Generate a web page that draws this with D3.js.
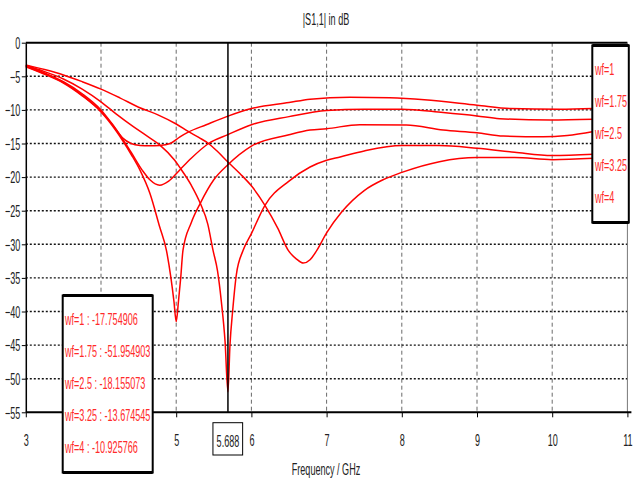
<!DOCTYPE html>
<html>
<head>
<meta charset="utf-8">
<script src="https://cdn.jsdelivr.net/npm/d3@7/dist/d3.min.js"></script>
<style>
  html, body { margin: 0; padding: 0; background: #ffffff; }
  svg { display: block; }
  text { font-family: "Liberation Sans", Arial, sans-serif; }
</style>
</head>
<body>
<svg id="chart" width="633" height="485"></svg>
<script>
// ---------------- data (frequency GHz, |S1,1| dB) ----------------
const seriesNames = ["wf=1", "wf=1.75", "wf=2.5", "wf=3.25", "wf=4"];

const wf1 = [
  [3.0,-3.3],[3.25,-4.0],[3.5,-4.8],[3.75,-5.8],[4.0,-6.9],[4.25,-8.2],[4.5,-9.6],[4.75,-10.7],
  [5.0,-12.1],[5.16,-13.2],[5.3,-14.1],[5.43,-15.0],[5.55,-16.2],[5.688,-17.75],[5.85,-19.5],
  [6.0,-21.3],[6.18,-24.2],[6.35,-27.6],[6.49,-30.9],[6.6,-32.2],[6.69,-32.8],[6.78,-32.3],
  [6.87,-30.9],[7.0,-28.3],[7.2,-25.2],[7.5,-22.0],[7.75,-20.4],[8.0,-19.3],[8.5,-17.7],
  [9.0,-17.1],[9.5,-17.1],[10.0,-17.4],[10.55,-17.2]
];
const wf175 = [
  [3.0,-3.4],[3.25,-4.3],[3.5,-5.4],[3.75,-6.9],[4.0,-8.8],[4.2,-10.6],[4.43,-12.5],[4.6,-13.8],
  [4.78,-15.2],[4.98,-17.5],[5.05,-18.6],[5.2,-21.2],[5.32,-23.9],[5.42,-27.0],[5.49,-30.9],
  [5.55,-34.0],[5.6,-38.5],[5.65,-44.5],[5.688,-51.95],[5.715,-45.0],[5.75,-40.0],[5.8,-34.5],
  [5.89,-30.9],[6.0,-28.4],[6.18,-24.2],[6.5,-20.6],[6.78,-18.5],[7.0,-17.5],[7.18,-17.0],
  [7.5,-16.1],[8.0,-15.3],[8.5,-15.3],[9.0,-15.7],[9.5,-16.3],[10.0,-16.8],[10.55,-16.6]
];
const wf25 = [
  [3.0,-3.6],[3.25,-4.7],[3.5,-6.0],[3.75,-7.9],[4.0,-10.3],[4.2,-13.1],[4.4,-16.6],[4.52,-19.0],
  [4.65,-22.4],[4.78,-27.4],[4.87,-30.9],[4.93,-35.0],[4.97,-38.5],[5.0,-41.5],[5.03,-38.5],
  [5.06,-35.0],[5.09,-30.9],[5.2,-26.8],[5.32,-23.9],[5.5,-20.4],[5.688,-18.16],[6.0,-15.4],
  [6.5,-13.7],[6.78,-13.0],[7.0,-12.8],[7.44,-12.2],[8.06,-12.25],[8.55,-13.0],[9.0,-13.4],
  [9.35,-13.9],[9.88,-14.0],[10.2,-13.8],[10.55,-13.2]
];
const wf325 = [
  [3.0,-3.5],[3.25,-4.6],[3.5,-5.9],[3.75,-7.8],[4.0,-10.2],[4.2,-12.9],[4.4,-16.3],[4.55,-19.0],
  [4.65,-20.4],[4.78,-21.2],[4.9,-20.6],[5.05,-18.9],[5.2,-17.2],[5.43,-15.0],[5.688,-13.67],
  [6.0,-12.2],[6.5,-11.0],[7.0,-10.1],[7.5,-9.9],[8.0,-9.9],[8.55,-10.4],[9.0,-10.9],[9.3,-11.3],
  [9.97,-11.5],[10.55,-11.4]
];
const wf4 = [
  [3.0,-3.4],[3.25,-4.5],[3.5,-5.8],[3.75,-7.6],[4.0,-10.0],[4.15,-12.1],[4.29,-14.2],[4.4,-15.0],
  [4.52,-15.3],[4.65,-15.35],[4.78,-15.3],[4.92,-15.0],[5.05,-14.0],[5.16,-13.3],[5.4,-12.2],
  [5.688,-10.93],[6.0,-9.8],[6.5,-8.9],[6.78,-8.4],[7.31,-8.1],[7.84,-8.2],[8.3,-8.5],[9.0,-9.3],
  [9.44,-9.8],[10.1,-9.9],[10.55,-9.8]
];
const allSeries = [wf1, wf175, wf25, wf325, wf4];

const markerFreq = 5.688;
const markerLabel = "5.688";
const markerValues = ["-17.754906", "-51.954903", "-18.155073", "-13.674545", "-10.925766"];

const xTicks = [3, 4, 5, 6, 7, 8, 9, 10, 11];
const xTickLabels = ["3", "", "5", "6", "7", "8", "9", "10", "11"];  // "4" is hidden behind the marker box
const yTicks = [0, -5, -10, -15, -20, -25, -30, -35, -40, -45, -50, -55];
const titleText = "|S1,1| in dB";
const xLabelText = "Frequency / GHz";

(function () {
  // ---------------- layout ----------------
  const SX = 0.55;              // horizontal text squeeze
  const FS = 16.5;              // font size
  const pL = 25.8, pR = 627.4, pT = 42.7, pB = 412.3;
  const svg = d3.select("#chart");

  const x = d3.scaleLinear().domain([3, 11]).range([pL, pR]);
  const y = d3.scaleLinear().domain([0, -55]).range([pT, pB]);

  function sText(g, px, py, str, anchor, color) {
    return g.append("text")
      .attr("transform", `translate(${px},${py}) scale(${SX},1)`)
      .attr("text-anchor", anchor)
      .attr("font-size", FS)
      .attr("fill", color)
      .text(str);
  }

  // grid
  const grid = svg.append("g");
  grid.selectAll("line.v").data(xTicks.filter(d => d > 3 && d < 11)).join("line")
    .attr("class", "v")
    .attr("x1", d => x(d)).attr("x2", d => x(d))
    .attr("y1", pT).attr("y2", pB)
    .attr("stroke", "#6a6a6a").attr("stroke-width", 1)
    .attr("stroke-dasharray", "4,3");
  grid.selectAll("line.h").data(yTicks.filter(d => d < 0 && d > -55)).join("line")
    .attr("class", "h")
    .attr("x1", pL).attr("x2", pR)
    .attr("y1", d => y(d)).attr("y2", d => y(d))
    .attr("stroke", "#111").attr("stroke-width", 1.4)
    .attr("stroke-dasharray", "2,2");

  // curves
  const line = d3.line().x(d => x(d[0])).y(d => y(d[1])).curve(d3.curveMonotoneX);
  svg.append("g").selectAll("path").data(allSeries).join("path")
    .attr("d", line)
    .attr("fill", "none")
    .attr("stroke", "#ff0000")
    .attr("stroke-width", 1.5);

  // borders
  svg.append("line").attr("x1", pL).attr("x2", pR).attr("y1", pT).attr("y2", pT)
    .attr("stroke", "#000").attr("stroke-width", 2);
  svg.append("line").attr("x1", pR).attr("x2", pR).attr("y1", pT).attr("y2", pB)
    .attr("stroke", "#777").attr("stroke-width", 1);

  // marker line
  svg.append("line").attr("x1", x(markerFreq)).attr("x2", x(markerFreq))
    .attr("y1", pT).attr("y2", pB)
    .attr("stroke", "#000").attr("stroke-width", 1.5);

  // axes
  const xAxis = d3.axisBottom(x).tickValues(xTicks).tickSize(5).tickSizeOuter(0)
    .tickFormat((d, i) => xTickLabels[i]);
  const gx = svg.append("g").attr("transform", `translate(0,${pB})`).call(xAxis);
  gx.select(".domain").attr("stroke", "#000").attr("stroke-width", 2).attr("d", `M${pL},0H${pR + 4}`);
  gx.selectAll(".tick line").attr("stroke", "#000");
  gx.selectAll(".tick text")
    .attr("transform", `scale(${SX},1)`)
    .attr("font-family", "Liberation Sans, Arial, sans-serif")
    .attr("font-size", FS).attr("fill", "#222")
    .attr("y", 22);

  const yAxis = d3.axisLeft(y).tickValues(yTicks).tickSize(4).tickSizeOuter(0).tickFormat(d3.format("d"));
  const gy = svg.append("g").attr("transform", `translate(${pL},0)`).call(yAxis);
  gy.select(".domain").attr("stroke", "#000").attr("stroke-width", 1.5);
  gy.selectAll(".tick line").attr("stroke", "#000");
  gy.selectAll(".tick text")
    .attr("transform", `scale(${SX},1)`)
    .attr("font-family", "Liberation Sans, Arial, sans-serif")
    .attr("font-size", FS).attr("fill", "#222")
    .attr("x", -5.5 / SX).attr("dy", "0.35em");

  // titles
  sText(svg, 326, 25, titleText, "middle", "#222");
  sText(svg, 326, 475, xLabelText, "middle", "#222");

  // marker label box
  const mx = x(markerFreq);
  svg.append("rect").attr("x", mx - 15).attr("y", 422.7).attr("width", 29.7).attr("height", 32.3)
    .attr("fill", "#fff").attr("stroke", "#000").attr("stroke-width", 1);
  sText(svg, mx, 446.5, markerLabel, "middle", "#222");

  // right legend
  const lg = svg.append("g");
  lg.append("rect").attr("x", 592.3).attr("y", 45.5).attr("width", 36.5).attr("height", 177)
    .attr("fill", "#fff").attr("stroke", "#000").attr("stroke-width", 2);
  lg.append("line").attr("x1", 592.3).attr("x2", 628.8).attr("y1", 45.5).attr("y2", 45.5).attr("stroke", "#000").attr("stroke-width", 3);
  lg.append("line").attr("x1", 592.3).attr("x2", 628.8).attr("y1", 222.5).attr("y2", 222.5).attr("stroke", "#000").attr("stroke-width", 3);
  seriesNames.forEach((n, i) => sText(lg, 595, 75 + i * 32, n, "start", "#ff2a2a"));

  // marker value box
  const vg = svg.append("g");
  vg.append("rect").attr("x", 62.7).attr("y", 295.5).attr("width", 90).attr("height", 177)
    .attr("fill", "#fff").attr("stroke", "#000").attr("stroke-width", 2);
  vg.append("line").attr("x1", 62.7).attr("x2", 152.7).attr("y1", 295.5).attr("y2", 295.5).attr("stroke", "#000").attr("stroke-width", 3);
  vg.append("line").attr("x1", 62.7).attr("x2", 152.7).attr("y1", 472.5).attr("y2", 472.5).attr("stroke", "#000").attr("stroke-width", 3);
  seriesNames.forEach((n, i) => sText(vg, 65, 324.5 + i * 32, `${n} : ${markerValues[i]}`, "start", "#ff2a2a"));
})();
</script>
</body>
</html>
